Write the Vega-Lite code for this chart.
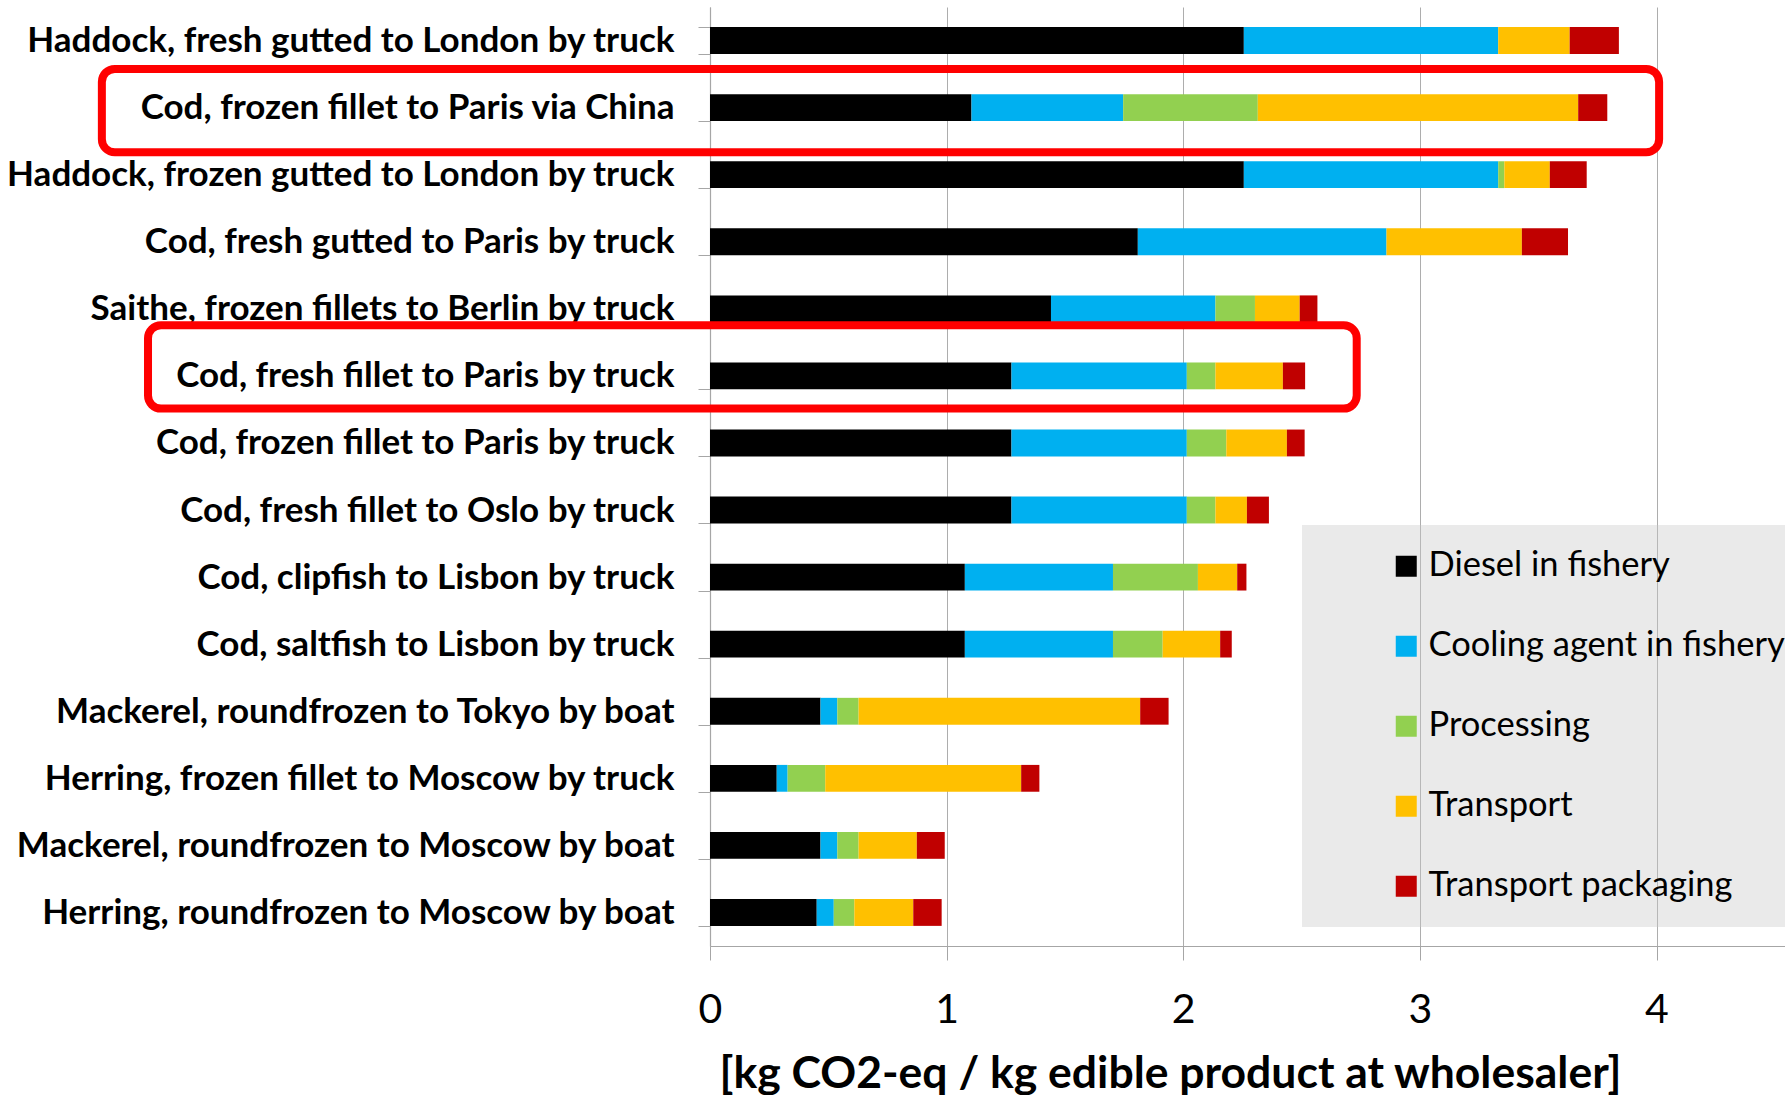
{
  "$schema": "https://vega.github.io/schema/vega-lite/v6.json",
  "autosize": {"type": "none"},
  "padding": {"left": 710, "top": 7, "right": 0, "bottom": 149},
  "width": 1075,
  "height": 939,
  "background": "white",
  "config": {
    "view": {"stroke": null},
    "font": "Lato"
  },
  "datasets": {
    "emissions": [
      {"product": "Haddock, fresh gutted to London by truck", "component": "Diesel in fishery", "seq": 1, "value": 2.256},
      {"product": "Haddock, fresh gutted to London by truck", "component": "Cooling agent in fishery", "seq": 2, "value": 1.075},
      {"product": "Haddock, fresh gutted to London by truck", "component": "Processing", "seq": 3, "value": 0},
      {"product": "Haddock, fresh gutted to London by truck", "component": "Transport", "seq": 4, "value": 0.302},
      {"product": "Haddock, fresh gutted to London by truck", "component": "Transport packaging", "seq": 5, "value": 0.208},
      {"product": "Cod, frozen fillet to Paris via China", "component": "Diesel in fishery", "seq": 1, "value": 1.105},
      {"product": "Cod, frozen fillet to Paris via China", "component": "Cooling agent in fishery", "seq": 2, "value": 0.641},
      {"product": "Cod, frozen fillet to Paris via China", "component": "Processing", "seq": 3, "value": 0.569},
      {"product": "Cod, frozen fillet to Paris via China", "component": "Transport", "seq": 4, "value": 1.354},
      {"product": "Cod, frozen fillet to Paris via China", "component": "Transport packaging", "seq": 5, "value": 0.123},
      {"product": "Haddock, frozen gutted to London by truck", "component": "Diesel in fishery", "seq": 1, "value": 2.256},
      {"product": "Haddock, frozen gutted to London by truck", "component": "Cooling agent in fishery", "seq": 2, "value": 1.075},
      {"product": "Haddock, frozen gutted to London by truck", "component": "Processing", "seq": 3, "value": 0.026},
      {"product": "Haddock, frozen gutted to London by truck", "component": "Transport", "seq": 4, "value": 0.192},
      {"product": "Haddock, frozen gutted to London by truck", "component": "Transport packaging", "seq": 5, "value": 0.156},
      {"product": "Cod, fresh gutted to Paris by truck", "component": "Diesel in fishery", "seq": 1, "value": 1.808},
      {"product": "Cod, fresh gutted to Paris by truck", "component": "Cooling agent in fishery", "seq": 2, "value": 1.051},
      {"product": "Cod, fresh gutted to Paris by truck", "component": "Processing", "seq": 3, "value": 0},
      {"product": "Cod, fresh gutted to Paris by truck", "component": "Transport", "seq": 4, "value": 0.572},
      {"product": "Cod, fresh gutted to Paris by truck", "component": "Transport packaging", "seq": 5, "value": 0.195},
      {"product": "Saithe, frozen fillets to Berlin by truck", "component": "Diesel in fishery", "seq": 1, "value": 1.441},
      {"product": "Saithe, frozen fillets to Berlin by truck", "component": "Cooling agent in fishery", "seq": 2, "value": 0.695},
      {"product": "Saithe, frozen fillets to Berlin by truck", "component": "Processing", "seq": 3, "value": 0.167},
      {"product": "Saithe, frozen fillets to Berlin by truck", "component": "Transport", "seq": 4, "value": 0.189},
      {"product": "Saithe, frozen fillets to Berlin by truck", "component": "Transport packaging", "seq": 5, "value": 0.075},
      {"product": "Cod, fresh fillet to Paris by truck", "component": "Diesel in fishery", "seq": 1, "value": 1.274},
      {"product": "Cod, fresh fillet to Paris by truck", "component": "Cooling agent in fishery", "seq": 2, "value": 0.741},
      {"product": "Cod, fresh fillet to Paris by truck", "component": "Processing", "seq": 3, "value": 0.121},
      {"product": "Cod, fresh fillet to Paris by truck", "component": "Transport", "seq": 4, "value": 0.285},
      {"product": "Cod, fresh fillet to Paris by truck", "component": "Transport packaging", "seq": 5, "value": 0.094},
      {"product": "Cod, frozen fillet to Paris by truck", "component": "Diesel in fishery", "seq": 1, "value": 1.274},
      {"product": "Cod, frozen fillet to Paris by truck", "component": "Cooling agent in fishery", "seq": 2, "value": 0.741},
      {"product": "Cod, frozen fillet to Paris by truck", "component": "Processing", "seq": 3, "value": 0.167},
      {"product": "Cod, frozen fillet to Paris by truck", "component": "Transport", "seq": 4, "value": 0.256},
      {"product": "Cod, frozen fillet to Paris by truck", "component": "Transport packaging", "seq": 5, "value": 0.075},
      {"product": "Cod, fresh fillet to Oslo by truck", "component": "Diesel in fishery", "seq": 1, "value": 1.274},
      {"product": "Cod, fresh fillet to Oslo by truck", "component": "Cooling agent in fishery", "seq": 2, "value": 0.741},
      {"product": "Cod, fresh fillet to Oslo by truck", "component": "Processing", "seq": 3, "value": 0.121},
      {"product": "Cod, fresh fillet to Oslo by truck", "component": "Transport", "seq": 4, "value": 0.133},
      {"product": "Cod, fresh fillet to Oslo by truck", "component": "Transport packaging", "seq": 5, "value": 0.093},
      {"product": "Cod, clipfish to Lisbon by truck", "component": "Diesel in fishery", "seq": 1, "value": 1.077},
      {"product": "Cod, clipfish to Lisbon by truck", "component": "Cooling agent in fishery", "seq": 2, "value": 0.626},
      {"product": "Cod, clipfish to Lisbon by truck", "component": "Processing", "seq": 3, "value": 0.359},
      {"product": "Cod, clipfish to Lisbon by truck", "component": "Transport", "seq": 4, "value": 0.166},
      {"product": "Cod, clipfish to Lisbon by truck", "component": "Transport packaging", "seq": 5, "value": 0.039},
      {"product": "Cod, saltfish to Lisbon by truck\u00a0", "component": "Diesel in fishery", "seq": 1, "value": 1.077},
      {"product": "Cod, saltfish to Lisbon by truck\u00a0", "component": "Cooling agent in fishery", "seq": 2, "value": 0.626},
      {"product": "Cod, saltfish to Lisbon by truck\u00a0", "component": "Processing", "seq": 3, "value": 0.21},
      {"product": "Cod, saltfish to Lisbon by truck\u00a0", "component": "Transport", "seq": 4, "value": 0.243},
      {"product": "Cod, saltfish to Lisbon by truck\u00a0", "component": "Transport packaging", "seq": 5, "value": 0.049},
      {"product": "Mackerel, roundfrozen to Tokyo by boat", "component": "Diesel in fishery", "seq": 1, "value": 0.467},
      {"product": "Mackerel, roundfrozen to Tokyo by boat", "component": "Cooling agent in fishery", "seq": 2, "value": 0.071},
      {"product": "Mackerel, roundfrozen to Tokyo by boat", "component": "Processing", "seq": 3, "value": 0.09},
      {"product": "Mackerel, roundfrozen to Tokyo by boat", "component": "Transport", "seq": 4, "value": 1.19},
      {"product": "Mackerel, roundfrozen to Tokyo by boat", "component": "Transport packaging", "seq": 5, "value": 0.12},
      {"product": "Herring, frozen fillet to Moscow by truck", "component": "Diesel in fishery", "seq": 1, "value": 0.282},
      {"product": "Herring, frozen fillet to Moscow by truck", "component": "Cooling agent in fishery", "seq": 2, "value": 0.046},
      {"product": "Herring, frozen fillet to Moscow by truck", "component": "Processing", "seq": 3, "value": 0.159},
      {"product": "Herring, frozen fillet to Moscow by truck", "component": "Transport", "seq": 4, "value": 0.828},
      {"product": "Herring, frozen fillet to Moscow by truck", "component": "Transport packaging", "seq": 5, "value": 0.077},
      {"product": "Mackerel, roundfrozen to Moscow by boat", "component": "Diesel in fishery", "seq": 1, "value": 0.467},
      {"product": "Mackerel, roundfrozen to Moscow by boat", "component": "Cooling agent in fishery", "seq": 2, "value": 0.071},
      {"product": "Mackerel, roundfrozen to Moscow by boat", "component": "Processing", "seq": 3, "value": 0.09},
      {"product": "Mackerel, roundfrozen to Moscow by boat", "component": "Transport", "seq": 4, "value": 0.246},
      {"product": "Mackerel, roundfrozen to Moscow by boat", "component": "Transport packaging", "seq": 5, "value": 0.118},
      {"product": "Herring, roundfrozen to Moscow by boat", "component": "Diesel in fishery", "seq": 1, "value": 0.451},
      {"product": "Herring, roundfrozen to Moscow by boat", "component": "Cooling agent in fishery", "seq": 2, "value": 0.072},
      {"product": "Herring, roundfrozen to Moscow by boat", "component": "Processing", "seq": 3, "value": 0.087},
      {"product": "Herring, roundfrozen to Moscow by boat", "component": "Transport", "seq": 4, "value": 0.249},
      {"product": "Herring, roundfrozen to Moscow by boat", "component": "Transport packaging", "seq": 5, "value": 0.12}
    ],
    "highlights": [
      {"product": "Cod, frozen fillet to Paris via China", "from": -2.570, "to": 4.011}
    ],
    "highlights2": [
      {"product": "Cod, fresh fillet to Paris by truck", "from": -2.375, "to": 2.733}
    ]
  },
  "layer": [
    {
      "data": {"name": "emissions"},
      "mark": {"type": "bar", "strokeWidth": 0},
      "encoding": {
        "y": {
          "field": "product",
          "type": "nominal",
          "sort": null,
          "scale": {
            "domain": [
              "Haddock, fresh gutted to London by truck",
              "Cod, frozen fillet to Paris via China",
              "Haddock, frozen gutted to London by truck",
              "Cod, fresh gutted to Paris by truck",
              "Saithe, frozen fillets to Berlin by truck",
              "Cod, fresh fillet to Paris by truck",
              "Cod, frozen fillet to Paris by truck",
              "Cod, fresh fillet to Oslo by truck",
              "Cod, clipfish to Lisbon by truck",
              "Cod, saltfish to Lisbon by truck\u00a0",
              "Mackerel, roundfrozen to Tokyo by boat",
              "Herring, frozen fillet to Moscow by truck",
              "Mackerel, roundfrozen to Moscow by boat",
              "Herring, roundfrozen to Moscow by boat"
            ],
            "paddingInner": 0.6,
            "paddingOuter": 0.3
          },
          "axis": {
            "title": null,
            "labelFont": "Lato",
            "labelFontWeight": "bold",
            "labelFontSize": 35,
            "labelColor": "#000000",
            "labelLimit": 1000,
            "labelPadding": 24,
            "tickSize": 12,
            "tickColor": "#A6A6A6",
            "tickBand": "extent",
            "domainColor": "#A6A6A6",
            "domainWidth": 1.2,
            "grid": false
          }
        },
        "x": {
          "field": "value",
          "type": "quantitative",
          "stack": "zero",
          "scale": {"domain": [0, 4.543], "nice": false, "zero": true},
          "axis": {
            "title": "[kg CO2-eq / kg edible product at wholesaler]",
            "values": [0, 1, 2, 3, 4],
            "format": "d",
            "labelFont": "Lato",
            "labelFontSize": 41,
            "labelColor": "#000000",
            "labelBaseline": "alphabetic",
            "labelPadding": 62,
            "labelFlush": false,
            "tickSize": 14,
            "tickColor": "#A6A6A6",
            "domainColor": "#A6A6A6",
            "domainWidth": 1.2,
            "grid": true,
            "gridColor": "#ADADAD",
            "gridWidth": 1,
            "titleFont": "Lato",
            "titleFontSize": 44.5,
            "titleFontWeight": "bold",
            "titleColor": "#000000",
            "titleX": 460,
            "titleY": 141,
            "titleAlign": "center",
            "titleBaseline": "alphabetic"
          }
        },
        "color": {
          "field": "component",
          "type": "nominal",
          "scale": {
            "domain": ["Diesel in fishery", "Cooling agent in fishery", "Processing", "Transport", "Transport packaging"],
            "range": ["#000000", "#00B0F0", "#92D050", "#FFC000", "#C00000"]
          },
          "legend": {
            "title": null,
            "orient": "none",
            "legendX": 592,
            "legendY": 518,
            "direction": "vertical",
            "padding": 24,
            "fillColor": "rgba(200,200,200,0.38)",
            "strokeColor": null,
            "symbolType": "square",
            "symbolSize": 441,
            "symbolStrokeWidth": 0,
            "symbolOffset": 63,
            "labelFont": "Lato",
            "labelFontSize": 34.5,
            "labelColor": "#000000",
            "labelOffset": 5,
            "labelLimit": 1000,
            "rowPadding": 45
          }
        },
        "order": {"field": "seq", "type": "quantitative", "sort": "ascending"}
      }
    },
    {
      "data": {"name": "highlights"},
      "mark": {"type": "bar", "filled": false, "color": "#FF0000", "strokeWidth": 8, "cornerRadius": 13, "height": {"band": 3.11}, "yOffset": 3},
      "encoding": {
        "y": {"field": "product", "type": "nominal"},
        "x": {"field": "from", "type": "quantitative"},
        "x2": {"field": "to"}
      }
    },
    {
      "data": {"name": "highlights2"},
      "mark": {"type": "bar", "filled": false, "color": "#FF0000", "strokeWidth": 8, "cornerRadius": 13, "height": {"band": 3.11}, "yOffset": -9},
      "encoding": {
        "y": {"field": "product", "type": "nominal"},
        "x": {"field": "from", "type": "quantitative"},
        "x2": {"field": "to"}
      }
    }
  ]
}
